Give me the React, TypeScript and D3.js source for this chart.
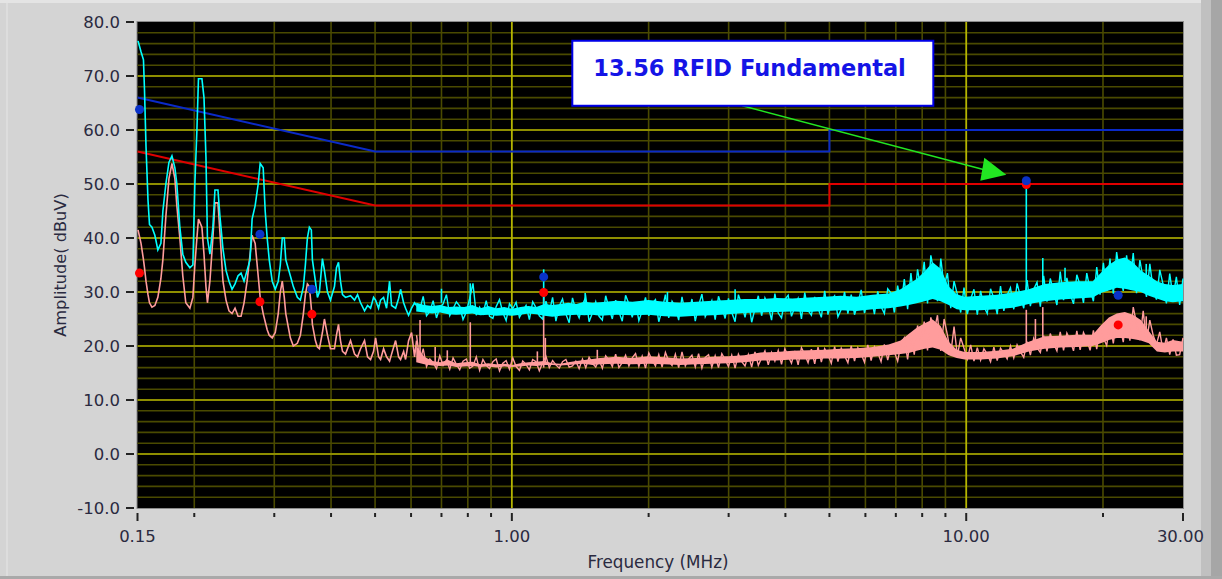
import React from 'react';
import * as d3 from 'd3';

// ---------- data ----------
const yTickValues = [80, 70, 60, 50, 40, 30, 20, 10, 0, -10];
const xTickLabels: [number, string][] = [[0.15, '0.15'], [1, '1.00'], [10, '10.00'], [30, '30.00']];
const xMinorTicks = [0.2, 0.3, 0.4, 0.5, 0.6, 0.7, 0.8, 0.9, 2, 3, 4, 5, 6, 7, 8, 9, 20];

// CISPR limit lines (MHz, dBuV)
const limitQP: [number, number][] = [[0.15, 66], [0.5, 56], [5, 56], [5, 60], [30, 60]];
const limitAV: [number, number][] = [[0.15, 56], [0.5, 46], [5, 46], [5, 50], [30, 50]];

// low-frequency detailed traces
const lowFreq = [0.1504, 0.1527, 0.1546, 0.1554, 0.1566, 0.1582, 0.1594, 0.1614, 0.1638, 0.1663, 0.1689, 0.1706, 0.1732, 0.1759, 0.1786, 0.1813, 0.1831, 0.1859, 0.1887, 0.1916, 0.1956, 0.1986, 0.2006, 0.2027, 0.2043, 0.2079, 0.2101, 0.2122, 0.2138, 0.2165, 0.2198, 0.2221, 0.2255, 0.2278, 0.2313, 0.2349, 0.2385, 0.2422, 0.2459, 0.2497, 0.2535, 0.2574, 0.2614, 0.2654, 0.2681, 0.2723, 0.2765, 0.2793, 0.2836, 0.2865, 0.2894, 0.2924, 0.2969, 0.3015, 0.3061, 0.3093, 0.3124, 0.3156, 0.318, 0.3254, 0.3304, 0.3372, 0.3424, 0.3477, 0.3512, 0.3548, 0.3584, 0.362, 0.3639, 0.3695, 0.3733, 0.3771, 0.3829, 0.3868, 0.3928, 0.3988, 0.407, 0.4112, 0.4154, 0.4196, 0.4239, 0.4304, 0.4415, 0.4506, 0.4575, 0.4645, 0.474, 0.4813, 0.4887, 0.4962, 0.5013, 0.5089, 0.5141, 0.522, 0.53, 0.5381, 0.5436, 0.5548, 0.5633, 0.569, 0.5778, 0.5836, 0.5925, 0.6016, 0.6108, 0.617];
const peakLow = [76.5, 74.5, 73, 67.5, 57, 47, 42.5, 42, 40.5, 37.8, 39, 45, 50, 54, 55.2, 53, 50, 42, 37, 35.5, 34.5, 35, 50, 60, 69.5, 69.5, 66, 55, 40, 37, 42, 48.9, 48.9, 44, 38, 34, 32, 30.5, 31.5, 33, 33.5, 32, 34, 36, 43.5, 46, 50, 53.8, 53, 45, 40, 36, 32, 30.5, 32, 35, 40, 40, 36, 33, 31, 29, 28.5, 31, 35, 40, 42, 41.5, 36, 32, 29, 30, 36.2, 34, 30, 28.5, 31, 34.5, 35.5, 32, 29.5, 29, 29.3, 28.5, 29.5, 28, 26.5, 27.5, 27, 29, 28.5, 27, 28.5, 29, 27, 32, 27.5, 27, 28.8, 30.5, 28, 27, 25.7, 27, 28, 27.5];
const avgLow = [41.5, 39, 36, 34.5, 32, 29.5, 28, 27.2, 27.5, 29, 32.5, 36, 44, 51, 53.8, 51, 46, 40, 33, 28, 27, 29, 35, 40, 43.5, 42, 37, 31, 28, 32, 40, 46.5, 46.5, 41, 32, 28.5, 26.5, 26, 27, 25.5, 25.5, 28, 32, 37, 40.5, 39, 33, 29, 26, 24.5, 23, 22, 21.5, 22.5, 26, 30, 32, 29, 26, 21.5, 20, 20.5, 22, 26, 29.5, 31.5, 31, 27, 24, 21, 19.8, 19.5, 22.5, 25, 22, 19.5, 19.5, 22, 24, 21, 19, 18.5, 21, 18.5, 18, 19.5, 21, 18, 17.5, 19, 21.5, 18, 17.5, 19.5, 18, 17.2, 18.5, 21, 18, 17.5, 19, 17.5, 21, 22.5, 18, 21];

// noisy band region: dense core of the band (frequency, low / high)
const bandFreq = [0.616, 0.6415, 0.668, 0.6957, 0.7245, 0.7542, 0.7858, 0.8184, 0.852, 0.887, 0.924, 0.962, 1.002, 1.044, 1.087, 1.132, 1.179, 1.228, 1.278, 1.331, 1.387, 1.444, 1.504, 1.566, 1.698, 1.842, 1.998, 2.166, 2.349, 2.549, 2.764, 2.997, 3.25, 3.525, 3.823, 4.147, 4.498, 4.878, 5.29, 5.737, 6.222, 6.749, 7.17, 7.47, 7.78, 8.1, 8.435, 8.78, 9.15, 9.53, 9.92, 10.76, 11.67, 12.66, 13.73, 14.88, 16.14, 17.5, 18.99, 19.77, 20.6, 21.45, 22.34, 23.26, 24.23, 25.23, 26.28, 27.36, 28.49, 30];
const peakBandLo = [26.4, 26.2, 26, 26.2, 25.9, 25.8, 25.9, 26, 25.7, 25.8, 25.6, 25.7, 25.6, 25.8, 26, 25.9, 25.6, 25.4, 25.6, 25.7, 25.8, 25.7, 25.8, 25.6, 25.8, 25.7, 25.8, 25.5, 25.4, 25.6, 25.7, 25.9, 26.1, 26.2, 26.3, 26.4, 26.3, 26.5, 26.6, 26.5, 26.8, 27, 27.3, 27.6, 27.9, 28.3, 28.7, 28.3, 27.6, 26.8, 26.6, 26.6, 26.8, 27.1, 27.8, 28.3, 28.6, 28.8, 29, 29.8, 30.3, 30.8, 30.6, 30.3, 30, 29.3, 28.8, 28.3, 28.1, 28.3];
const peakBandHi = [28, 27.6, 27.4, 27.6, 27.2, 27.3, 27.2, 27.6, 27, 27.4, 27, 27.2, 26.9, 27.2, 27.4, 27.2, 27.8, 27.6, 27.8, 28, 27.8, 28.2, 28, 28.1, 28.4, 28.2, 28.5, 28.2, 28, 28.2, 28.4, 28.5, 28.7, 28.7, 28.9, 28.8, 29, 29.1, 29.3, 29.1, 29.5, 29.7, 30.5, 31.5, 32.4, 33.8, 35.5, 34.3, 31, 29.6, 29.1, 29.3, 29.5, 29.9, 30.5, 31.5, 31.8, 32, 32, 33.5, 35, 36, 36.4, 35.5, 34, 33, 32, 31.5, 31.3, 31.5];
const avgBandLo = [17, 16.6, 16.4, 16.3, 16.4, 16.1, 16.2, 16.3, 16.1, 16.2, 16, 16.2, 16.1, 16.2, 16.4, 16.3, 16.5, 16.5, 16.4, 16.5, 16.6, 16.7, 16.5, 16.6, 16.7, 16.6, 16.7, 16.6, 16.5, 16.6, 16.7, 16.8, 17, 17.3, 17.3, 17.5, 17.5, 17.7, 17.7, 17.8, 18, 18.3, 18.5, 18.7, 19.1, 19.5, 19.7, 19.3, 18.3, 17.8, 17.5, 17.5, 17.7, 18.1, 19, 19.5, 19.7, 19.8, 20, 20.5, 21.1, 21.5, 21.5, 21.3, 21, 20.5, 19, 18.8, 19, 19];
const avgBandHi = [20, 18, 17.2, 17, 17.4, 16.8, 17, 17.1, 16.6, 16.8, 16.6, 16.7, 16.5, 16.8, 17, 17.1, 17.2, 16.8, 16.7, 17, 17.2, 17.4, 17.6, 17.8, 18, 17.8, 18.1, 17.9, 17.7, 17.8, 18, 18.1, 18.3, 18.8, 18.9, 19.1, 19.2, 19.3, 19.5, 19.6, 19.8, 20.3, 21, 22.2, 23.4, 24.2, 24.9, 23.7, 20.8, 19.3, 18.9, 18.9, 19.1, 19.5, 20.8, 21.8, 21.9, 22.1, 22.1, 23.8, 25.3, 26, 26.3, 25.8, 24.8, 22.8, 20.8, 20.6, 21.1, 20.8];

// sweep samples across the noisy region (log-spaced receiver sweep, 232 points 0.617..30 MHz)
const SWEEP_START = 0.617, SWEEP_END = 30, SWEEP_N = 232;
const peakSweep = [
  27.5, 26.8, 29.2, 25.6, 26.4, 28.4, 25.2, 27.1, 27.8, 29.5,
  25.6, 26.9, 28.2, 27.4, 24.9, 26.3, 28.8, 31.6, 25.7, 27.2,
  26, 28.4, 25.5, 25.1, 27.3, 28.6, 26.2, 24.7, 27.8, 26.9,
  28.1, 25.3, 26.4, 27.5, 24.9, 28.2, 27.1, 25.6, 25, 28.3,
  26.2, 29, 24.6, 27.4, 28.7, 25.9, 24.3, 28.9, 26.6, 25.2,
  27.6, 29.1, 24.5, 26.1, 28.2, 25.5, 24.8, 29.3, 27, 25,
  28.5, 26.3, 24.6, 29.4, 27.8, 25.3, 28.1, 24.7, 26.5, 29,
  25.6, 27.9, 28.6, 24.5, 26.7, 29.5, 25.2, 28.3, 27.2, 24.8,
  29.1, 26, 25.8, 28.7, 24.6, 27.5, 29.6, 25.4, 26.8, 28.4,
  24.9, 29.2, 27.3, 25.1, 28.8, 26.2, 24.5, 29.5, 27.7, 25.3,
  28.5, 24.4, 26.9, 29.3, 25.6, 28.9, 27.4, 24.8, 29.7, 26.1,
  25.2, 28.6, 29.4, 25.5, 27.2, 28.8, 25, 29.9, 26.6, 25.7,
  29.1, 27, 25.3, 30.2, 25.8, 28.4, 29.3, 25.4, 26.8, 30,
  26, 29.5, 25.8, 27.9, 30.4, 26.1, 28.6, 29.2, 25.9, 30.1,
  27.3, 26, 30.6, 29.8, 26.2, 31.2, 27.5, 32.4, 26.8, 33.5,
  28, 34.2, 30.5, 35.6, 27.9, 36.8, 33.4, 28.3, 36.2, 31,
  33.5, 27, 32, 29.5, 26.2, 30.8, 25.9, 28.7, 30.5, 25.8,
  30.2, 27.3, 26, 30.6, 28.8, 25.9, 31.1, 26.5, 29.4, 30.8,
  26.8, 31.6, 29.2, 27, 32.2, 27.4, 30.5, 31.8, 27.3, 33,
  28.2, 32.5, 30.1, 27.6, 33.8, 28.5, 32.6, 29.6, 27.8, 33.2,
  31.2, 28, 33.5, 30.4, 28.3, 34.6, 29.5, 35.4, 30.2, 36.2,
  29.7, 37.4, 33, 30.2, 36.8, 31.5, 37.2, 29.8, 35.9, 32.4,
  29.1, 35.2, 30.5, 28.6, 34.1, 31.4, 27.9, 33.4, 29, 32.8,
  27.6, 32.5,
];
const avgSweep = [
  22, 17, 19.5, 16.2, 17.6, 16.9, 15.8, 18.2, 16.4, 17.4,
  15.7, 17.8, 16.6, 15.6, 17.2, 17.6, 15.9, 16.3, 18, 15.5,
  17.5, 16.4, 15.8, 17.1, 17.6, 15.4, 16.8, 17.3, 15.7, 17.8,
  16.2, 15.5, 17.2, 16.6, 15.6, 17.5, 17.1, 15.4, 16.9, 18.1,
  16, 17.3, 16.5, 15.9, 17.1, 17.5, 16.1, 16.3, 17.2, 15.8,
  17.6, 16, 17.9, 16.8, 16.1, 17.5, 15.9, 18.2, 17.4, 16.2,
  18.5, 16, 16.9, 18.3, 16.3, 17.8, 18.6, 16.2, 18.1, 15.9,
  18.7, 17.4, 16.3, 18.4, 16.1, 18.8, 17.2, 16.4, 18.5, 16,
  18.9, 16.3, 17.6, 18.3, 16.1, 18.6, 15.9, 17.9, 18.4, 16.1,
  18.2, 16, 18.6, 17.5, 16.2, 18.3, 15.9, 18.5, 17.1, 16.3,
  18.4, 16.1, 18.9, 16.4, 17.8, 19.1, 16.5, 18.8, 17.2, 19.2,
  16.6, 19.5, 18.1, 16.8, 19.1, 16.5, 19.7, 18.4, 16.9, 19.4,
  16.7, 19.8, 17, 19.5, 18.4, 16.8, 19.9, 17.1, 19.6, 18.2,
  16.9, 20, 17.2, 19.7, 18.5, 17, 20.2, 17.3, 19.9, 18.8,
  17.1, 20.3, 17.4, 20, 18.9, 17.2, 20.4, 21.5, 17.5, 22.2,
  18.4, 23.8, 20.5, 24.5, 19.2, 25.3, 22.8, 25.7, 19.1, 25,
  22, 18.5, 23.6, 18.2, 21.5, 19.6, 17.6, 20.2, 17.2, 19.7,
  17.4, 19.5, 18.5, 17.1, 19.8, 17.3, 19.6, 18.7, 17.6, 20,
  17.8, 20.2, 18.9, 17.9, 20.8, 18.3, 21.4, 19.7, 18.8, 21.9,
  19, 22.3, 20.4, 19.1, 22.6, 19.2, 22.4, 21, 19.1, 22.8,
  19.3, 22.5, 21.2, 19.2, 22.9, 19.4, 23.4, 21.5, 20.1, 24.2,
  20.5, 25.2, 23.6, 20.7, 26, 21, 27.2, 24.2, 21.1, 26.5,
  20.9, 24.8, 22, 20.3, 22.6, 19, 21.5, 18.4, 21.2, 18.3,
  18.4, 21.5,
];

// isolated spikes: frequency, base, top
const peakSpikes: [number, number, number][] = [[0.7, 28, 30.6], [0.81, 27, 31.6], [1.175, 27, 34.2], [1.45, 28, 29.8], [2.2, 28, 30], [3.1, 28.5, 30.5], [13.56, 30, 50.6], [14.74, 31, 36.3], [16.5, 32, 34.5], [24.9, 32, 35.2]];
const avgSpikes: [number, number, number][] = [[0.628, 18, 24.8], [0.678, 17, 19.8], [0.721, 17, 19.2], [0.81, 17, 24.4], [1.138, 17, 19], [1.175, 16, 29.9], [1.185, 17, 21.5], [1.542, 17, 19.3], [13.56, 20, 26.7], [14.2, 21, 25], [14.74, 21, 27.2], [24.9, 21, 25.5]];

// measured markers (MHz, dBuV)
const qpMarkers: [number, number][] = [[0.1515, 63.8], [0.279, 40.7], [0.363, 30.5], [1.175, 32.8], [13.56, 50.6], [21.6, 29.4]];
const avMarkers: [number, number][] = [[0.1515, 33.5], [0.279, 28.2], [0.363, 25.9], [1.175, 29.9], [13.56, 49.9], [21.6, 23.9]];

const annotationText = '13.56 RFID Fundamental';

// ---------- chart ----------
const W = 1222, H = 579;
const PL = 137.5, PR = 1183, PT = 22, PB = 508;
const FONT = '"DejaVu Sans", Verdana, sans-serif';
const TEXT = '#2a2a40';
const CYAN = '#00ffff';
const PINK = '#ff9c9c';

export default function App() {
  const x = d3.scaleLog().domain([0.15, 30]).range([PL, PR]);
  const y = d3.scaleLinear().domain([-10, 80]).range([PB, PT]);

  const line = d3.line<[number, number]>().x(d => x(d[0])).y(d => y(d[1]));

  const peakLowPts = lowFreq.map((f, i) => [f, peakLow[i]] as [number, number]);
  const avgLowPts = lowFreq.map((f, i) => [f, avgLow[i]] as [number, number]);
  const idx = bandFreq.map((_, i) => i);
  const peakArea = d3.area<number>().x(i => x(bandFreq[i])).y0(i => y(peakBandLo[i])).y1(i => y(peakBandHi[i]))(idx) || '';
  const avgArea = d3.area<number>().x(i => x(bandFreq[i])).y0(i => y(avgBandLo[i])).y1(i => y(avgBandHi[i]))(idx) || '';

  const sweepFreq = d3.range(SWEEP_N).map(i => SWEEP_START * Math.pow(SWEEP_END / SWEEP_START, i / (SWEEP_N - 1)));
  const peakSweepPts = sweepFreq.map((f, i) => [f, peakSweep[i]] as [number, number]);
  const avgSweepPts = sweepFreq.map((f, i) => [f, avgSweep[i]] as [number, number]);

  const hMinor = d3.range(-8, 80, 2).filter(v => v % 10 !== 0);
  const hMajor = [70, 60, 50, 40, 30, 20, 10, 0];

  // annotation anchored to the 13.56 MHz marker
  const ax = x(13.56), ay = y(50.6);
  const tip = [ax - 20, ay - 6];
  const boxX = ax - 454, boxY = ay - 140, boxW = 361, boxH = 65;
  const lineStart = [boxX + 170, boxY + boxH];

  return (
    <div style={{ position: 'absolute', left: 0, top: 0 }}>
      <svg width={W} height={H} style={{ display: 'block' }}>
        <rect x={0} y={0} width={W} height={H} fill="#d4d4d4" />
        <rect x={0} y={0} width={W} height={3} fill="#e4e4e4" />
        <rect x={1201} y={0} width={10} height={H} fill="#c0c0c0" />
        <rect x={1211} y={0} width={11} height={H} fill="#a6a6a6" />
        <rect x={0} y={576} width={W} height={3} fill="#a9a9a9" />
        <line x1={7} y1={3} x2={7} y2={576} stroke="#e6e6e6" strokeWidth={1} />

        {/* plot area */}
        <rect x={PL - 1} y={PT - 1} width={PR - PL + 2} height={PB - PT + 2} fill="#8a8a8a" />
        <rect x={PL} y={PT} width={PR - PL} height={PB - PT} fill="#000" />
        <g>
          {hMinor.map(v => (
            <line key={'hm' + v} x1={PL} x2={PR} y1={y(v)} y2={y(v)} stroke="#4a4a00" strokeWidth={1.6} />
          ))}
          {xMinorTicks.map(f => (
            <line key={'vm' + f} x1={x(f)} x2={x(f)} y1={PT} y2={PB} stroke="#4a4a00" strokeWidth={1.6} />
          ))}
          {hMajor.map(v => (
            <line key={'hM' + v} x1={PL} x2={PR} y1={y(v)} y2={y(v)} stroke="#8e8e00" strokeWidth={1.8} />
          ))}
          {[1, 10].map(f => (
            <line key={'vM' + f} x1={x(f)} x2={x(f)} y1={PT} y2={PB} stroke="#b4b400" strokeWidth={1.8} />
          ))}
        </g>

        {/* limits */}
        <path d={line(limitQP) || ''} fill="none" stroke="#0a2ac8" strokeWidth={2} />
        <path d={line(limitAV) || ''} fill="none" stroke="#e00000" strokeWidth={2} />

        {/* average trace */}
        <path d={avgArea} fill={PINK} stroke="none" />
        <path d={line(avgSweepPts) || ''} fill="none" stroke={PINK} strokeWidth={1.4} />
        <path d={line(avgLowPts) || ''} fill="none" stroke={PINK} strokeWidth={1.6} />
        {avgSpikes.map((s, i) => (
          <line key={'as' + i} x1={x(s[0])} x2={x(s[0])} y1={y(s[1])} y2={y(s[2])} stroke={PINK} strokeWidth={1.6} />
        ))}

        {/* peak trace */}
        <path d={peakArea} fill={CYAN} stroke="none" />
        <path d={line(peakSweepPts) || ''} fill="none" stroke={CYAN} strokeWidth={1.4} />
        <path d={line(peakLowPts) || ''} fill="none" stroke={CYAN} strokeWidth={1.6} />
        {peakSpikes.map((s, i) => (
          <line key={'ps' + i} x1={x(s[0])} x2={x(s[0])} y1={y(s[1])} y2={y(s[2])} stroke={CYAN} strokeWidth={1.6} />
        ))}

        {/* markers */}
        {avMarkers.map((m, i) => (
          <circle key={'am' + i} cx={x(m[0])} cy={y(m[1])} r={4.5} fill="#ff0000" />
        ))}
        {qpMarkers.map((m, i) => (
          <circle key={'qm' + i} cx={x(m[0])} cy={y(m[1])} r={4.5} fill="#0a32c8" />
        ))}

        {/* annotation */}
        <line x1={lineStart[0]} y1={lineStart[1]} x2={tip[0] - 22} y2={tip[1] - 5} stroke="#22e622" strokeWidth={1.6} />
        <polygon points={`${tip[0]},${tip[1]} ${tip[0] - 22},${tip[1] - 17} ${tip[0] - 26},${tip[1] + 6}`} fill="#22e622" />
        <rect x={boxX} y={boxY} width={boxW} height={boxH} fill="#ffffff" stroke="#0000e8" strokeWidth={2} />
        <text x={boxX + 21} y={boxY + 35} fontFamily={FONT} fontWeight="bold" fontSize={22.5} fill="#1414e6">{annotationText}</text>

        {/* y axis */}
        {yTickValues.map(v => (
          <g key={'yt' + v}>
            <line x1={126} x2={134} y1={y(v)} y2={y(v)} stroke="#222" strokeWidth={2} />
            <text x={120} y={y(v)} dy="0.36em" textAnchor="end" fontFamily={FONT} fontSize={16.5} fill={TEXT}>{v.toFixed(1)}</text>
          </g>
        ))}
        <text transform={`translate(66,265) rotate(-90)`} textAnchor="middle" fontFamily={FONT} fontSize={16.2} fill={TEXT}>Amplitude( dBuV)</text>

        {/* x axis */}
        {xMinorTicks.map(f => (
          <line key={'xt' + f} x1={x(f)} x2={x(f)} y1={513} y2={517} stroke="#222" strokeWidth={2} />
        ))}
        {xTickLabels.map(([f, l], i) => (
          <g key={'xl' + f}>
            <line x1={x(f)} x2={x(f)} y1={513} y2={521} stroke="#222" strokeWidth={2} />
            <text x={x(f) - (i === xTickLabels.length - 1 ? 2.5 : 0)} y={541.5} textAnchor="middle" fontFamily={FONT} fontSize={16.5} fill={TEXT}>{l}</text>
          </g>
        ))}
        <text x={658} y={568} textAnchor="middle" fontFamily={FONT} fontSize={16.8} fill={TEXT}>Frequency (MHz)</text>
      </svg>
    </div>
  );
}
